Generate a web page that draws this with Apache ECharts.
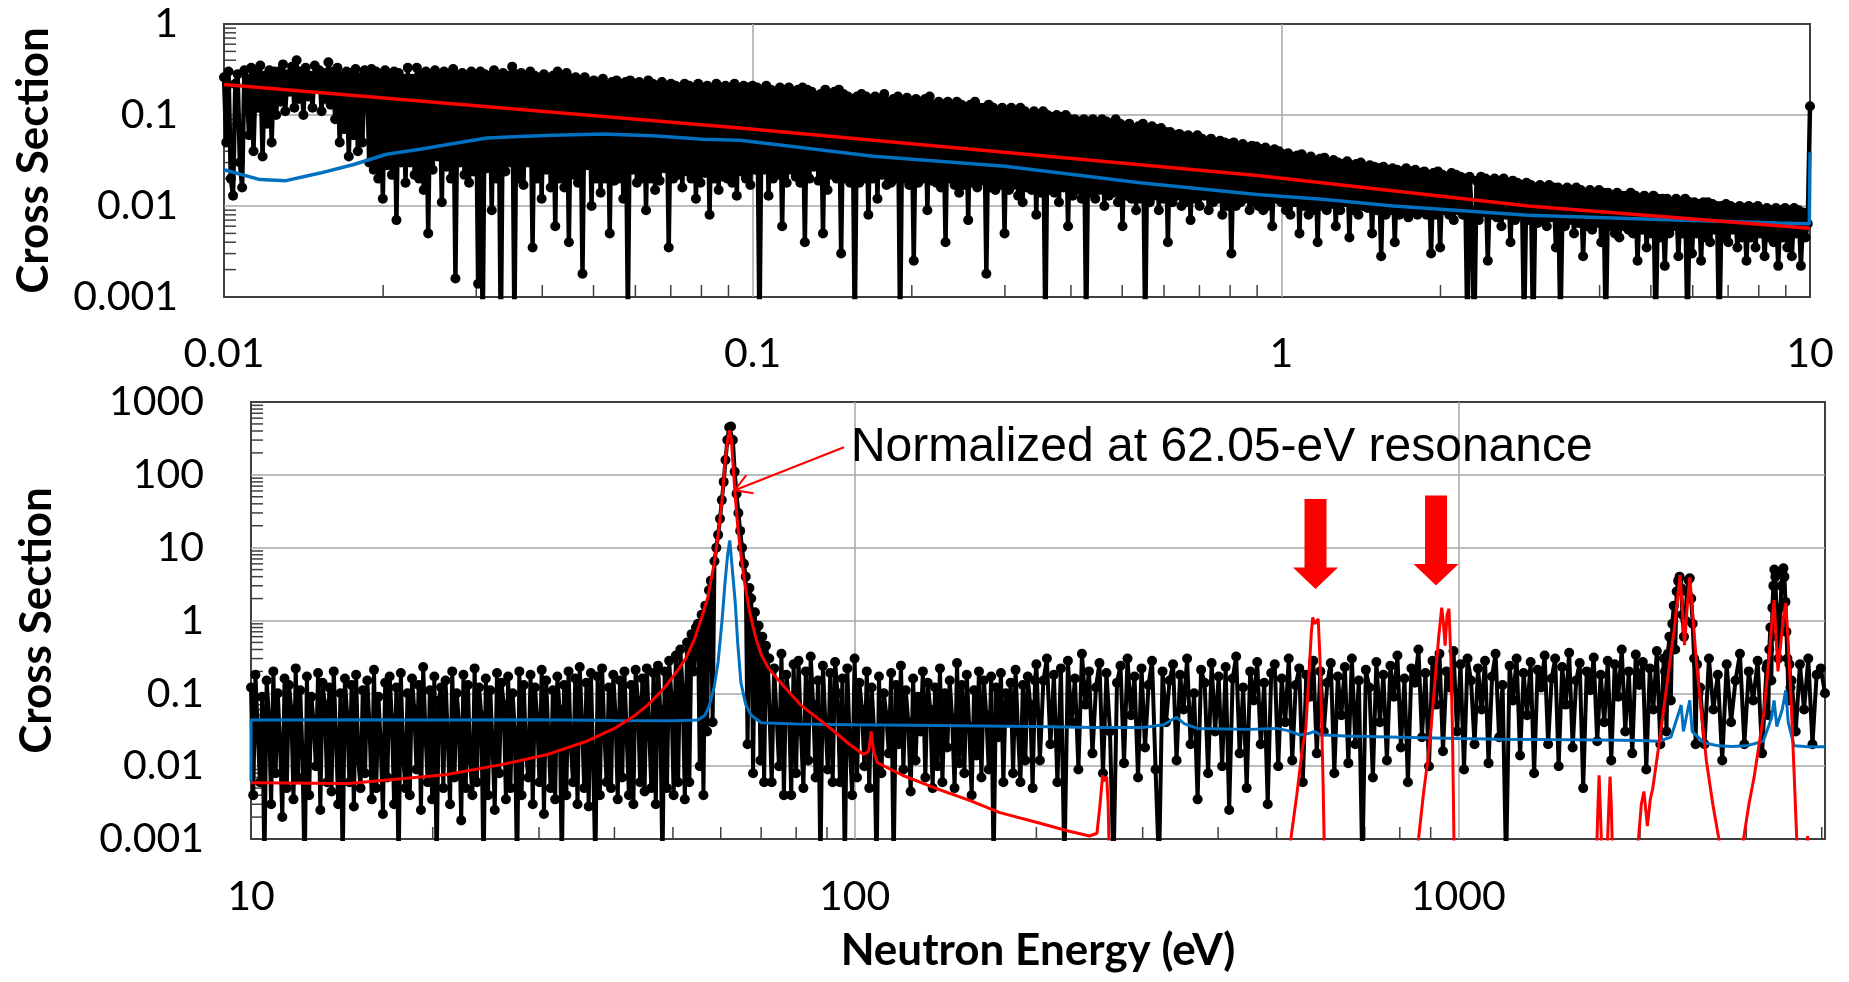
<!DOCTYPE html>
<html><head><meta charset="utf-8">
<script src="https://cdn.jsdelivr.net/npm/echarts@6.0.0/dist/echarts.min.js"></script>
<style>html,body{margin:0;padding:0;background:#fff;}#c{width:1849px;height:982px;}</style>
</head><body><div id="c"></div>
<script>
// ---------------- tick labels ----------------
const TOP_X_LABELS = ['0.01','0.1','1','10'];          // exponents -2..1
const TOP_Y_LABELS = ['0.001','0.01','0.1','1'];       // exponents -3..0
const BOT_X_LABELS = ['10','100','1000'];              // exponents 1..3
const BOT_Y_LABELS = ['0.001','0.01','0.1','1','10','100','1000']; // -3..3
const MINOR_MULT = [2,3,4,5,6,7,8,9];

// ---------------- top panel (0.01 - 10 eV), measured points on a log-spaced grid ----------------
const TOP_RANGE = [0.01, 10];
const TOP_MEAS = [
.26,.05,.3,.02,.013,.22,.28,.03,.016,.31,
.25,.06,.33,.04,.29,.12,.35,.035,.27,.08,.31,.05,.3,.1,
.3,.14,.36,.11,.28,.18,.34,.12,.4,.15,.3,.1,.33,.16,.27,.12,.35,.2,.31,.11,.29,.15,.38,.13,.3,
.09,.33,.05,.27,.07,.3,.035,.29,.06,.32,.04,.26,.05,.31,
.28,.03,.32,.025,.3,.02,.26,.012,.31,.028,.27,.022,.3,.007,.29,.03,.25,.018,.33,.03,
.25,.022,.33,.02,.28,.015,.3,.005,.27,.025,.31,.035,.26,.011,.3,.027,.28,.02,.32,.0016,
.27,.03,.29,.022,.25,.018,.3,.024,.28,.0014,.3,.0004,.28,.026,.27,.009,.31,.02,.26,.0003,
.29,.024,.27,.03,.34,.0005,.28,.02,.29,.017,.26,.03,.3,.0035,.27,.02,.25,.012,.28,.025,
.24,.016,.27,.006,.3,.02,.25,.016,.29,.004,.25,.022,.26,.018,.23,.0018,.26,.028,.22,.01,
.24,.02,.22,.014,.25,.02,.21,.005,.23,.019,.24,.02,.22,.012,.23,.0006,.24,.025,.22,.018,
.23,.02,.21,.009,.24,.02,.22,.015,.21,.019,.23,.026,.2,.0035,.22,.02,.21,.022,.2,.016,
.22,.024,.21,.02,.2,.012,.22,.018,.2,.023,.21,.008,.19,.02,.22,.015,.2,.021,.21,.02,
.2,.018,.22,.013,.19,.024,.21,.02,.2,.017,.21,
.025,.2,.0004,.19,.025,.21,.013,.19,.02,.18,.022,.2,.006,.19,.018,.2,.025,.18,.021,.19,
.018,.2,.004,.19,.02,.18,.027,.16,.019,.17,.005,.19,.015,.17,.022,.18,.02,.19,.003,.17,
.02,.16,.018,.15,.0004,.16,.018,.17,.02,.16,.008,.15,.02,.16,.012,.15,.022,.17,.017,.14,
.018,.15,.02,.16,.0004,.14,.02,.155,.017,.14,.0025,.15,.018,.14,.02,.15,.009,.16,.019,.13,
.018,.14,.016,.13,.004,.14,.02,.12,.017,.14,.014,.13,.017,.12,.007,.13,.018,.14,.016,.12,
.019,.12,.0018,.13,.016,.12,.015,.11,.017,.12,.005,.11,.015,.12,.017,.11,.013,.12,.011,.11,
.016,.1,.015,.11,.008,.1,.014,.11,.0004,.1,.015,.095,.014,.1,.011,.095,.016,.1,.006,.09,
.013,.09,.015,.085,.012,.09,.0004,.085,.014,.09,.012,.08,.015,.09,.01,.085,.013,.08,.014,.09,
.011,.08,.006,.075,.013,.08,.012,.07,.009,.075,.012,.08,.0004,.07,.011,.075,.013,.07,.009,.072,
.012,.065,.004,.065,.011,.06,.013,.062,.01,.058,.011,.06,.007,.055,.012,.06,.01,.055,.013,.05,
.009,.055,.011,.05,.012,.052,.008,.05,.01,.048,.003,.05,.01,.045,.011,.048,.012,.044,.009,.046,
.011,.045,.01,.042,.009,.044,.01,.04,.006,.042,.012,.04,.011,
.037,.009,.038,.008,.034,.011,.036,.005,.037,.01,.032,.008,.035,.009,.031,.004,.033,.01,.034,.009,
.03,.0105,.032,.006,.03,.009,.029,.011,.031,.0045,.028,.009,.029,.008,.03,.01,.027,.0095,.028,.005,
.027,.009,.026,.0028,.027,.008,.025,.009,.026,.004,.025,.008,.024,.009,.026,.0075,.024,.009,.025,.008,
.023,.009,.024,.008,.022,.003,.023,.008,.024,.0035,.022,.009,.021,.008,.023,.007,.022,.009,.021,.008,
.02,.0004,.021,.008,.0003,.019,.007,.021,.0085,.02,.0025,.019,.008,.02,.0075,.019,.006,.02,.008,.018,
.004,.019,.007,.018,.008,.017,.0004,.018,.007,.017,.0003,.016,.0065,.017,.007,.016,.006,.017,.0075,.016,
.0035,.016,.0004,.015,.006,.016,.007,.015,.005,.016,.0065,.015,.0028,.014,.006,.015,.0055,.014,.0065,.015,
.004,.014,.0004,.014,.006,.013,.005,.014,.0045,.013,.006,.013,.0055,.014,.005,.013,.0025,.012,.0055,.013,
.0035,.012,.005,.013,.0004,.012,.0045,.012,.0022,.012,.005,.011,.006,.012,.0028,.011,.005,.012,.0004,.011,
.003,.011,.005,.0105,.0025,.011,.0045,.011,.004,.0105,.0055,.01,.0003,.01,.0045,.0105,.004,.01,.0055,.0095,
.0035,.01,.0045,.0095,.0025,.01,.0045,.0095,.0035,.01,.005,.009,.0028,.0095,.0045,.009,.004,.0095,.0022,.009,
.0045,.0095,.0035,.009,.0028,.0095,.005,.009,.0022,.0085,.0045,.0064,.125
];
const TOP_RED = [[0.01,.216],[0.0946,.072],[0.9,.0216],[2.93,.01],[10,.0057]];
const TOP_BLUE = [[0.01,.025],[0.0117,.0195],[0.0131,.019],[0.0152,.023],[0.0176,.0286],[0.0203,.037],
[0.0235,.042],[0.0272,.0486],[0.0314,.056],[0.0363,.058],[0.042,.06],[0.052,.062],[0.0647,.059],
[0.0804,.054],[0.0946,.0528],[0.1256,.0435],[0.169,.0352],[0.30,.0273],[0.403,.0222],[0.54,.018],
[0.90,.0134],[1.21,.0118],[1.63,.01],[2.93,.0079],[5.2,.0071],[8.7,.0065],[9.97,.0064],[10,.039]];

// ---------------- bottom panel (10 - 4050 eV), measured points, segment by segment ----------------
const BOT_RANGE_A = [10, 54.6];
const BOT_MEAS_A = [
.12,.004,.18,.03,.006,.09,.0004,.15,.05,.003,.2,.008,.1,.02,.002,.16,.005,.13,.06,.0035,
.22,.007,.11,.015,.0003,.17,.004,.09,.04,.01,.19,.0025,.14,.07,.006,.12,.0045,.2,.025,.003,
.1,.0004,.16,.05,.006,.13,.0028,.18,.012,.005,.11,.008,.15,.035,.0035,.21,.005,.09,.02,.0022,
.14,.007,.17,.045,.003,.12,.0003,.19,.015,.005,.1,.004,.16,.06,.009,.13,.0025,.23,.03,.006,
.11,.0035,.17,.0004,.08,.12,.005,.15,.025,.003,.2,.007,.1,.04,.0018,.18,.005,.13,.012,.004,
.22,.006,.12,.05,.0003,.16,.004,.11,.02,.0025,.19,.008,.14,.07,.0035,.17,.005,.1,.03,.0003,
.2,.004,.13,.015,.007,.18,.003,.12,.045,.006,.21,.0022,.15,.025,.005,.11,.0035,.17,.06,.0004,
.13,.004,.2,.02,.006,.16,.003,.23,.04,.005,.14,.0028,.19,.012,.0004,.17,.004,.22,.03,.006,
.12,.005,.18,.05,.0035,.15,.007,.2,.025,.004,.13,.003,.21,.08,.006,.16,.0045,.22,.035,.005,
.19,.003,.24,.06,.0004,.2,.005,.28,.09,.004,.33,.006,.4,.12,.0035,.5,.006,.65,.2,.8];
const BOT_RANGE_B = [55, 71.8];
const BOT_MEAS_B = [.9,.01,1.2,.004,1.6,.03,2.6,3.5,.04,6.5,10,15,25,45,80,160,300,450,460,300,
110,55,30,17,10,6,4,.02,2.8,2.0,.008,1.3,.05,.85,.012,.6,.006,.45,.3];
const BOT_RANGE_C = [72.2, 199];
const BOT_MEAS_C = [
.3,.006,.22,.05,.01,.35,.004,.18,.09,.004,.25,.008,.28,.03,.005,.2,.012,.32,.07,.007,
.15,.0004,.24,.04,.009,.19,.006,.27,.1,.006,.16,.0004,.22,.02,.004,.3,.007,.14,.06,.01,
.2,.005,.12,.03,.0004,.17,.008,.1,.05,.015,.19,.0004,.13,.02,.24,.009,.11,.04,.0045,.16,
.012,.09,.03,.2,.007,.14,.06,.005,.12,.01,.22,.006,.1,.018,.15,.045,.005,.26,.011,.13,
.008,.18,.035,.004,.11,.014,.2,.007,.15,.05,.009,.17,.0004,.12,.025,.19,.006,.1,.04,.14,
.008,.21,.03,.006,.13,.012,.17,.07,.005,.15];
const BOT_RANGE_D1 = [200, 2190];
const BOT_MEAS_D1 = [
.25,.012,.15,.3,.02,.18,.006,.22,.0004,.28,.04,.16,.009,.35,.07,.2,.015,.12,.26,.008,
.19,.03,.0004,.14,.24,.011,.3,.05,.17,.007,.22,.018,.13,.28,.009,.0004,.2,.04,.15,.25,
.012,.18,.06,.3,.02,.1,.0035,.21,.14,.008,.26,.03,.17,.01,.23,.0025,.16,.32,.015,.12,
.005,.2,.08,.27,.02,.14,.003,.19,.25,.01,.16,.04,.3,.012,.13,.22,.006,.18,.09,.28,
.015,.2,.03,.14,.26,.008,.17,.05,.23,.011,.3,.02,.15,.0004,.21,.12,.007,.27,.04,.18,
.012,.24,.09,.33,.018,.16,.006,.22,.14,.4,.025,.19,.01,.28,.07,.35,.016,.2,.12,.38,
.03,.25,.009,.3,.15,.02,.22,.06,.28,.011,.17,.35,.025,.13,.0004,.24,.08,.3,.014,.19,
.05,.27,.008,.21,.12,.33,.02,.16,.3,.01,.23,.07,.36,.018,.15,.26,.005,.2,.11,.31,
.022,.18,.04,.28,.012,.25,.09,.4,.03,.2,.015,.34,.13,.27,.009,.22,.06,.38,.02,.3];
const BOT_RANGE_R3 = [2200, 2500];
const BOT_MEAS_R3 = [.2,.03,.35,.6,.08,.9,1.6,.4,2.5,3.5,4,2.8,1.2,.6,1,2.5,3.6,3.8,2,.9,.3,.02,.25,.1];
const BOT_RANGE_D2 = [2515, 3240];
const BOT_MEAS_D2 = [.12,.02,.3,.06,.18,.012,.25,.04,.15,.35,.02,.2,.08,.28,.015,.22];
const BOT_RANGE_R4 = [3250, 3550];
const BOT_MEAS_R4 = [.25,.05,.4,.8,.15,1.5,3,5,4,1.5,.6,.3,.8,1.5,3,4.5,5.2,4,1.8,.7,.3,.08,.25,.12];
const BOT_RANGE_D3 = [3565, 4050];
const BOT_MEAS_D3 = [.15,.03,.25,.06,.3,.02,.18,.22,.1];

const BOT_RED = [[10,.0059],[14.5,.0058],[21,.0076],[26,.0105],[31,.0145],[36,.022],[40,.033],[43,.048],
[45.4,.069],[48,.11],[50.3,.18],[52.5,.3],[54.3,.56],[56,1.2],[57.2,2.2],[58.5,6],[59.4,15],[60.3,45],
[61,148],[61.6,300],[62.05,410],[62.5,300],[63,110],[63.4,52],[64,20],[64.8,8],[65.7,3.4],[67,1.3],
[68.5,.6],[70,.34],[72,.22],[76,.13],[81.4,.069],[87,.045],[92.5,.03],[98,.02],[103.5,.0145],[105.5,.016],
[106.5,.03],[107.5,.016],[109,.0112],[120,.0075],[135,.0051],[155,.0034],[174,.0023],[200,.0017],
[225,.0013],[245,.0011],[252,.0012],[255,.003],[257.5,.0075],[259.5,.0062],[261.5,.0072],[263,.003],
[264.5,.0003],[300,.0001],[500,.0001],[527,.0009],[540,.004],[552,.018],[559,.033],[566,.2],[571,.7],
[574,1.1],[578,.9],[581,.85],[586,1.05],[590,.3],[594,.035],[597,.006],[599.5,.0009],[700,.0001],
[858,.0009],[875,.004],[890,.012],[901,.033],[915,.15],[928,.6],[938.7,1.5],[945,.9],[951,.45],[958,1.2],
[965,1.45],[972,.3],[978,.03],[983.7,.0009],[1200,.0001],[1690,.0003],[1704,.003],[1711,.0075],
[1718,.003],[1732,.0004],[1760,.0004],[1776,.003],[1784,.0072],[1792,.003],[1805,.0003],[1900,.0001],
[1988,.001],[2010,.003],[2030,.0045],[2057,.0015],[2080,.0035],[2100,.005],[2150,.02],[2205,.096],
[2250,.35],[2280,.78],[2310,2.2],[2330,4.2],[2350,1.5],[2370,.46],[2395,1.6],[2418,3.9],[2440,1.5],
[2480,.27],[2530,.05],[2577,.0116],[2640,.003],[2702,.001],[2720,.0003],[2940,.0001],[2968,.001],
[3030,.003],[3089,.0069],[3150,.02],[3209,.056],[3270,.3],[3310,1.0],[3335,1.9],[3360,.6],[3385,.2],
[3430,.6],[3460,1.2],[3487,1.74],[3520,.5],[3555,.096],[3600,.008],[3636,.001],[3660,.0003],
[3755,.0003],[3790,.0011],[3825,.0003],[4050,.0001]];
const BOT_BLUE = [[10,.0062],[10.001,.043],[15,.0435],[20,.043],[30,.0435],[40,.0425],[50,.042],[55,.043],
[56.5,.05],[57.5,.07],[58.5,.12],[59.4,.27],[60.3,1.0],[61,3.4],[61.6,8],[62.1,12.6],[62.6,6],[63.4,1.8],
[64,.5],[64.8,.14],[66,.07],[67.4,.05],[70,.0395],[80,.038],[100,.037],[150,.036],[198,.035],[250,.034],
[300,.034],[325,.037],[341,.047],[352,.038],[370,.033],[450,.032],[500,.033],[520,.031],[547,.0268],
[565,.028],[578,.030],[590,.027],[650,.026],[800,.025],[1000,.024],[1172,.0235],[1400,.0232],
[1718,.0229],[2000,.0225],[2150,.022],[2250,.025],[2320,.055],[2340,.069],[2360,.03],[2400,.06],
[2418,.08],[2440,.03],[2550,.021],[2700,.019],[2840,.0186],[3000,.019],[3200,.022],[3300,.045],
[3335,.08],[3370,.035],[3440,.06],[3487,.11],[3520,.04],[3600,.019],[3800,.0185],[4050,.0185]];

// annotation anchors (data coordinates, bottom panel)
const BOT_ARROWS = [[580, 11.2], [918.6, 12.5]];
const ANNOT_TEXT = 'Normalized at 62.05-eV resonance';
const ANNOT_TEXT_AT = [98.6, 232];
const ANNOT_FROM = [96, 239];
const ANNOT_TIP = [63.3, 61.5];

// ---------------- helpers ----------------
function logGrid(range, vals) {
  const n = vals.length;
  return vals.map((v, i) => [range[0] * Math.pow(range[1] / range[0], n > 1 ? i / (n - 1) : 0), v]);
}
function decadeFormatter(labels, minExp) {
  return function (v) {
    const l = Math.log10(v), e = Math.round(l);
    if (Math.abs(l - e) > 1e-6) return '';
    return labels[e - minExp] || '';
  };
}
function minorTicks(minExp, maxExp, limit) {
  const out = [];
  for (let e = minExp; e < maxExp; e++) for (const m of MINOR_MULT) {
    const v = m * Math.pow(10, e);
    if (v < limit) out.push(v);
  }
  return out;
}
const topBlack = logGrid(TOP_RANGE, TOP_MEAS);
const botBlack = [].concat(
  logGrid(BOT_RANGE_A, BOT_MEAS_A), logGrid(BOT_RANGE_B, BOT_MEAS_B), logGrid(BOT_RANGE_C, BOT_MEAS_C),
  logGrid(BOT_RANGE_D1, BOT_MEAS_D1), logGrid(BOT_RANGE_R3, BOT_MEAS_R3), logGrid(BOT_RANGE_D2, BOT_MEAS_D2),
  logGrid(BOT_RANGE_R4, BOT_MEAS_R4), logGrid(BOT_RANGE_D3, BOT_MEAS_D3));

const topTicks = minorTicks(-3, 0, 1).map(v => [0.01, v, 0]).concat(minorTicks(-2, 1, 10).map(v => [v, 0.001, 1]));
const botTicks = minorTicks(-3, 3, 1000).map(v => [10, v, 0]).concat(minorTicks(1, 4, 4050).map(v => [v, 0.001, 1]));

function tickRender(params, api) {
  const p = api.coord([api.value(0), api.value(1)]);
  const horiz = api.value(2) === 0;
  return {
    type: 'line',
    shape: horiz ? { x1: p[0], y1: p[1], x2: p[0] + 12, y2: p[1] } : { x1: p[0], y1: p[1], x2: p[0], y2: p[1] - 12 },
    style: { stroke: '#404040', lineWidth: 1.5 }
  };
}

const LABEL_FONT = { fontFamily: 'Lato', fontSize: 41, color: '#000' };
const NAME_FONT = { fontFamily: 'Lato', fontSize: 44, fontWeight: 'bold', color: '#000' };
const SPLIT = { show: true, showMinLine: false, showMaxLine: false, lineStyle: { color: '#a6a6a6', width: 1.5 } };

function blackSeries(x, y, data, w) {
  return {
    type: 'line', xAxisIndex: x, yAxisIndex: y, data: data, z: 2,
    symbol: 'circle', symbolSize: 10, showSymbol: true, showAllSymbol: true,
    lineStyle: { color: '#000', width: w, join: 'round', cap: 'round' }, itemStyle: { color: '#000', borderWidth: 0 },
    clip: true, silent: true, animation: false
  };
}
function curveSeries(x, y, data, color, width, z) {
  return {
    type: 'line', xAxisIndex: x, yAxisIndex: y, data: data, z: z, symbol: 'none',
    lineStyle: { color: color, width: width }, clip: true, silent: true, animation: false
  };
}

const chart = echarts.init(document.getElementById('c'), null, { renderer: 'canvas' });
const option = {
  animation: false,
  backgroundColor: '#fff',
  textStyle: { fontFamily: 'Lato' },
  grid: [
    { left: 224, top: 24, right: 39, bottom: 685, show: true, borderColor: '#404040', borderWidth: 2, containLabel: false, outerBoundsMode: 'none' },
    { left: 251, top: 402, right: 24, bottom: 143, show: true, borderColor: '#404040', borderWidth: 2, containLabel: false, outerBoundsMode: 'none' }
  ],
  xAxis: [
    { type: 'log', logBase: 10, gridIndex: 0, min: 0.01, max: 10,
      axisLine: { show: false }, axisTick: { show: false }, splitLine: SPLIT,
      axisLabel: Object.assign({ margin: 36, showMinLabel: true, showMaxLabel: true, formatter: decadeFormatter(TOP_X_LABELS, -2) }, LABEL_FONT) },
    { type: 'log', logBase: 10, gridIndex: 1, min: 10, max: 4050,
      axisLine: { show: false }, axisTick: { show: false }, splitLine: SPLIT,
      name: 'Neutron Energy (eV)', nameLocation: 'middle', nameGap: 90, nameTextStyle: NAME_FONT,
      axisLabel: Object.assign({ margin: 37, showMinLabel: true, formatter: decadeFormatter(BOT_X_LABELS, 1) }, LABEL_FONT) }
  ],
  yAxis: [
    { type: 'log', logBase: 10, gridIndex: 0, min: 0.001, max: 1,
      axisLine: { show: false }, axisTick: { show: false }, splitLine: SPLIT,
      name: 'Cross Section', nameLocation: 'middle', nameRotate: 90, nameGap: 168, nameTextStyle: NAME_FONT,
      axisLabel: Object.assign({ margin: 46, showMinLabel: true, showMaxLabel: true, formatter: decadeFormatter(TOP_Y_LABELS, -3) }, LABEL_FONT) },
    { type: 'log', logBase: 10, gridIndex: 1, min: 0.001, max: 1000,
      axisLine: { show: false }, axisTick: { show: false }, splitLine: SPLIT,
      name: 'Cross Section', nameLocation: 'middle', nameRotate: 90, nameGap: 192, nameTextStyle: NAME_FONT,
      axisLabel: Object.assign({ margin: 47, showMinLabel: true, showMaxLabel: true, formatter: decadeFormatter(BOT_Y_LABELS, -3) }, LABEL_FONT) }
  ],
  series: [
    { type: 'custom', xAxisIndex: 0, yAxisIndex: 0, data: topTicks, renderItem: tickRender, z: 1, silent: true },
    blackSeries(0, 0, topBlack, 4.5),
    curveSeries(0, 0, TOP_BLUE, '#0070c0', 3.5, 3),
    curveSeries(0, 0, TOP_RED, '#ff0000', 3.5, 4),
    { type: 'custom', xAxisIndex: 1, yAxisIndex: 1, data: botTicks, renderItem: tickRender, z: 1, silent: true },
    blackSeries(1, 1, botBlack, 4),
    curveSeries(1, 1, BOT_BLUE, '#0070c0', 3, 3),
    curveSeries(1, 1, BOT_RED, '#ff0000', 3, 4),
    { type: 'scatter', xAxisIndex: 1, yAxisIndex: 1, data: BOT_ARROWS, z: 5, silent: true,
      symbol: 'path://M11.5,0 L33.5,0 L33.5,68.5 L45,68.5 L22.5,90 L0,68.5 L11.5,68.5 Z',
      symbolSize: [45, 90], itemStyle: { color: '#ff0000', opacity: 1 } }
  ]
};
chart.setOption(option);

// annotation: text + thin arrow pointing at the 62.05 eV resonance
const finder = { xAxisIndex: 1, yAxisIndex: 1 };
const tp = chart.convertToPixel(finder, ANNOT_TEXT_AT);
const p0 = chart.convertToPixel(finder, ANNOT_FROM);
const p1 = chart.convertToPixel(finder, ANNOT_TIP);
const dx = p0[0] - p1[0], dy = p0[1] - p1[1], L = Math.hypot(dx, dy);
const ux = dx / L, uy = dy / L, ang = 31 * Math.PI / 180, hl = 19;
function rot(a) { return [p1[0] + hl * (ux * Math.cos(a) - uy * Math.sin(a)), p1[1] + hl * (ux * Math.sin(a) + uy * Math.cos(a))]; }
chart.setOption({
  graphic: [
    { type: 'line', z: 10, silent: true, shape: { x1: p0[0], y1: p0[1], x2: p1[0], y2: p1[1] }, style: { stroke: '#ff0000', lineWidth: 2 } },
    { type: 'polyline', z: 10, silent: true, shape: { points: [rot(ang), p1, rot(-ang)] }, style: { stroke: '#ff0000', lineWidth: 2, fill: null } },
    { type: 'text', z: 10, silent: true, x: tp[0], y: tp[1],
      style: { text: ANNOT_TEXT, font: '48px "Liberation Sans", Arial, sans-serif', fill: '#000', align: 'left', verticalAlign: 'middle' } }
  ]
});
</script></body></html>
